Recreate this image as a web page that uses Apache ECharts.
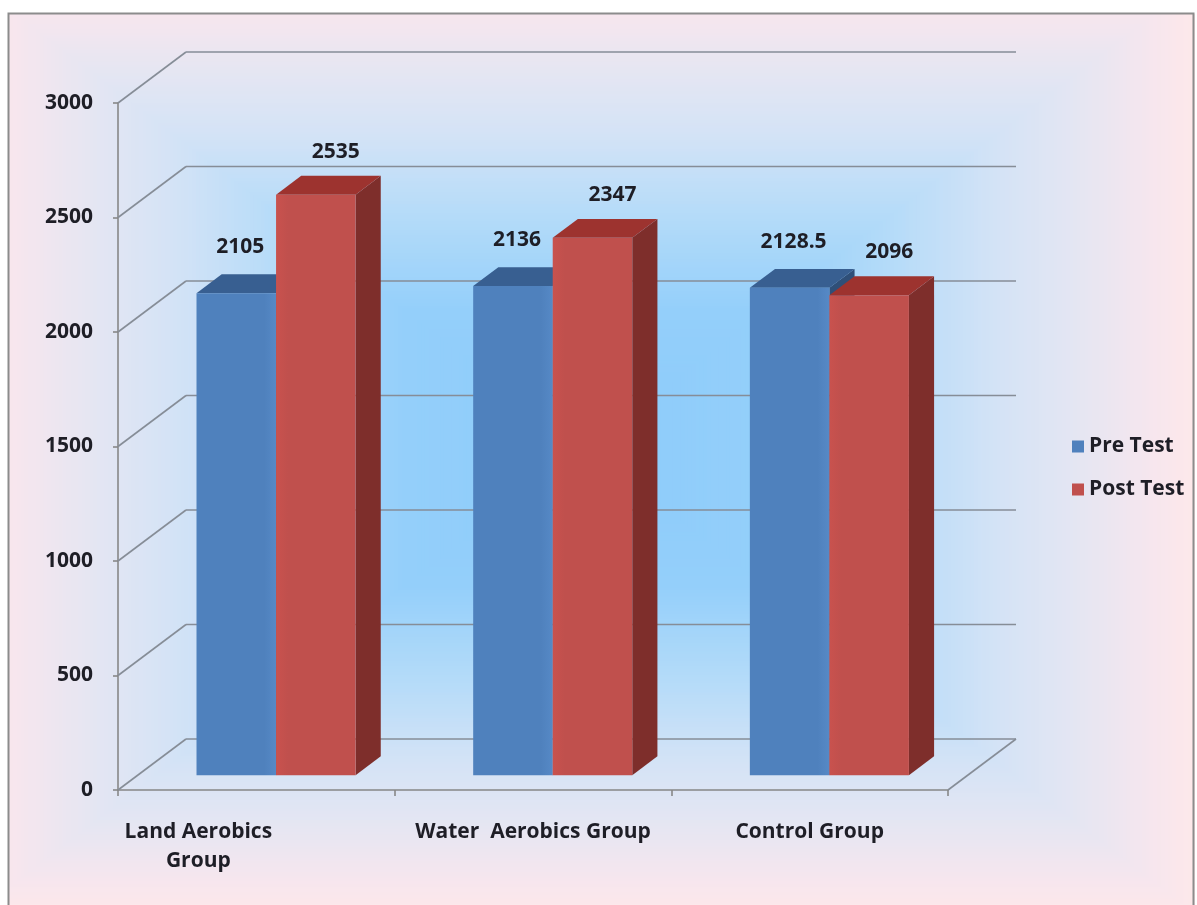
<!DOCTYPE html>
<html><head><meta charset="utf-8">
<script src="https://cdn.jsdelivr.net/npm/echarts@6/dist/echarts.min.js"></script>
<style>html,body{margin:0;padding:0;background:#fff;}#c{width:1197px;height:905px;}</style>
</head><body><div id="c"></div>
<script>
// ---- data ----
const categories = ['Land Aerobics\nGroup', 'Water  Aerobics Group', 'Control Group'];
const seriesNames = ['Pre Test', 'Post Test'];
const preTest = [2105, 2136, 2128.5];
const postTest = [2535, 2347, 2096];
const yTicks = [0, 500, 1000, 1500, 2000, 2500, 3000];

// ---- style ----
const FONT = '"Open Sans", "Noto Sans", sans-serif';
const TXT = '#1e1e26';
const DEPTH = [68, -51];     // full 3D depth offset (px)
const K0 = 0.29, K1 = 0.66;  // bar depth range
const BAR_FRAC = 0.2875;     // front-face width as fraction of band
const GRID_COLOR = '#868d97';
const PRE = {front: '#4f81bd', top: '#385f91', side: '#2f4f78'};
const POST = {front: '#c0504d', top: '#9d332f', side: '#7e2e2b'};

const chart = echarts.init(document.getElementById('c'), null, {renderer: 'canvas'});

function makeBar(isPost, col) {
  return function (params, api) {
    const cat = api.value(0), v = api.value(1);
    const p0 = api.coord([cat, 0]);
    const p1 = api.coord([cat, v]);
    const band = api.size([1, 0])[0];
    const w = band * BAR_FRAC;
    const sx = K0 * DEPTH[0], sy = K0 * DEPTH[1];
    const dx = (K1 - K0) * DEPTH[0], dy = (K1 - K0) * DEPTH[1];
    const x0 = p0[0] + sx + (isPost ? 0 : -w);
    const x1 = x0 + w;
    const yb = p0[1] + sy, yt = p1[1] + sy;
    return {
      type: 'group',
      children: [
        {type: 'polygon', shape: {points: [[x1, yt], [x1 + dx, yt + dy], [x1 + dx, yb + dy], [x1, yb]]},
         style: {fill: col.side}},
        {type: 'polygon', shape: {points: [[x0, yt], [x1, yt], [x1 + dx, yt + dy], [x0 + dx, yt + dy]]},
         style: {fill: col.top}},
        {type: 'rect', shape: {x: x0, y: yt, width: w, height: yb - yt},
         style: {fill: {type: 'linear', x: 0, y: 0, x2: 1, y2: 0, colorStops: isPost ?
           [{offset: 0, color: '#c9524e'}, {offset: 0.15, color: col.front}, {offset: 1, color: col.front}] :
           [{offset: 0, color: col.front}, {offset: 0.85, color: col.front}, {offset: 1, color: '#5689c6'}]}}},
        {type: 'text', x: (x0 + x1) / 2 + (isPost ? 20 : 4), y: yt - (isPost ? 43 : 46),
         style: {text: String(v), fill: TXT, font: 'bold 21px ' + FONT, align: 'center', verticalAlign: 'middle'}}
      ]
    };
  };
}

function walls(params, api) {
  const v = api.value(1);
  const cs = params.coordSys;
  const y = api.coord([0, v])[1];
  const xl = cs.x, xr = cs.x + cs.width;
  const ls = {stroke: GRID_COLOR, lineWidth: 1.6};
  const children = [
    {type: 'line', shape: {x1: xl, y1: y, x2: xl + DEPTH[0], y2: y + DEPTH[1]}, style: ls},
    {type: 'line', shape: {x1: xl + DEPTH[0], y1: y + DEPTH[1], x2: xr + DEPTH[0], y2: y + DEPTH[1]}, style: ls}
  ];
  if (v === 0) {
    children.push({type: 'line', shape: {x1: xr, y1: y, x2: xr + DEPTH[0], y2: y + DEPTH[1]}, style: ls});
  }
  return {type: 'group', children: children};
}

// background: rectangular path gradient
const AREA = {x: 9, y: 14, x2: 1197, y2: 905};
const CX = 585, CY = 448, HW = 610, HH = 465;
const stops = [
  [0.00, [140, 203, 250]], [0.30, [148, 207, 250]], [0.50, [180, 219, 249]],
  [0.68, [212, 227, 246]], [0.82, [230, 230, 242]], [0.93, [246, 230, 238]], [1.00, [253, 232, 234]]
];
function colAt(t) {
  for (let i = 1; i < stops.length; i++) {
    if (t <= stops[i][0]) {
      const a = stops[i - 1], b = stops[i];
      const f = (t - a[0]) / (b[0] - a[0]);
      const c = a[1].map((v, k) => Math.round(v + (b[1][k] - v) * f));
      return 'rgb(' + c.join(',') + ')';
    }
  }
  return 'rgb(253,232,234)';
}
const bg = [];
const STEPS = 160;
for (let i = STEPS; i >= 1; i--) {
  const t = i / STEPS;
  const x1 = Math.max(AREA.x, CX - t * HW), x2 = Math.min(AREA.x2, CX + t * HW);
  const y1 = Math.max(AREA.y, CY - t * HH), y2 = Math.min(AREA.y2, CY + t * HH);
  bg.push({type: 'rect', silent: true, z: -10, shape: {x: x1, y: y1, width: x2 - x1, height: y2 - y1},
           style: {fill: colAt(t)}});
}
bg.push({type: 'rect', silent: true, z: -9, shape: {x: 8.5, y: 13.5, width: 1185, height: 920},
         style: {fill: 'none', stroke: '#8c8c8c', lineWidth: 2}});

const labelStyle = {fontFamily: FONT, fontWeight: 'bold', fontSize: 21, color: TXT};

const option = {
  animation: false,
  backgroundColor: '#ffffff',
  graphic: bg,
  legend: {
    data: seriesNames, orient: 'vertical', left: 1067, top: 431,
    itemWidth: 12, itemHeight: 12, itemGap: 22, icon: 'rect',
    textStyle: labelStyle
  },
  grid: {left: 118, right: 249, top: 103, bottom: 115, containLabel: false},
  xAxis: {
    type: 'category',
    data: categories.map((c, i) => i === 0 ? {value: c, textStyle: {padding: [0, 116, 0, 0]}} : c),
    axisLine: {lineStyle: {color: '#878787', width: 1.6}},
    axisTick: {show: true, length: 6, lineStyle: {color: '#878787', width: 1.6}},
    axisLabel: Object.assign({margin: 28, lineHeight: 29, interval: 0}, labelStyle),
    splitLine: {show: false}
  },
  yAxis: {
    type: 'value', min: 0, max: 3000, interval: 500,
    axisLine: {show: true, lineStyle: {color: '#878787', width: 1.6}},
    axisTick: {show: true, length: 5, lineStyle: {color: '#878787', width: 1.6}},
    axisLabel: Object.assign({margin: 25, formatter: v => String(v)}, labelStyle),
    splitLine: {show: false}
  },
  series: [
    {type: 'custom', name: '_walls', z: 1, silent: true, renderItem: walls,
     data: yTicks.map(v => [0, v]), encode: {x: 0, y: 1}},
    {type: 'custom', name: seriesNames[0], z: 3, renderItem: makeBar(false, PRE),
     itemStyle: {color: PRE.front}, data: preTest.map((v, i) => [i, v]), encode: {x: 0, y: 1}},
    {type: 'custom', name: seriesNames[1], z: 3, renderItem: makeBar(true, POST),
     itemStyle: {color: POST.front}, data: postTest.map((v, i) => [i, v]), encode: {x: 0, y: 1}}
  ]
};
chart.setOption(option);
</script>
</body></html>
